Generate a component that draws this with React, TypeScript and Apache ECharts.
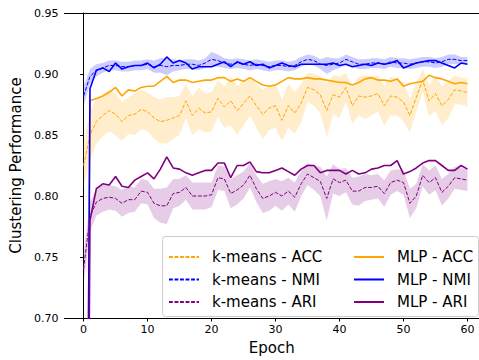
import React, { useEffect, useRef } from "react";
import * as echarts from "echarts";

const epochs: number[] = Array.from({ length: 61 }, (_, i) => i);
const xTicks = [0, 10, 20, 30, 40, 50, 60];
const yTicks = [0.7, 0.75, 0.8, 0.85, 0.9, 0.95];

const kmAcc = [
  0.825, 0.85, 0.861, 0.866, 0.87, 0.867, 0.861, 0.866, 0.867, 0.871,
  0.869, 0.864, 0.861, 0.862, 0.864, 0.866, 0.878, 0.866, 0.872, 0.868,
  0.869, 0.88, 0.873, 0.878, 0.87, 0.876, 0.882, 0.874, 0.867, 0.872,
  0.874, 0.862, 0.874, 0.868, 0.876, 0.889, 0.887, 0.883, 0.87, 0.883,
  0.881, 0.889, 0.874, 0.882, 0.881, 0.882, 0.884, 0.874, 0.882, 0.881,
  0.877, 0.866, 0.881, 0.895, 0.878, 0.884, 0.874, 0.879, 0.887, 0.886, 0.885,
];
const kmAccStd = [
  0.018, 0.02, 0.018, 0.017, 0.017, 0.017, 0.016, 0.015, 0.017, 0.016,
  0.016, 0.017, 0.018, 0.019, 0.017, 0.016, 0.014, 0.016, 0.017, 0.016,
  0.016, 0.015, 0.017, 0.02, 0.02, 0.018, 0.016, 0.018, 0.02, 0.018,
  0.018, 0.017, 0.018, 0.017, 0.016, 0.012, 0.013, 0.015, 0.022, 0.016,
  0.017, 0.012, 0.015, 0.016, 0.018, 0.016, 0.015, 0.016, 0.016, 0.015,
  0.016, 0.014, 0.012, 0.009, 0.013, 0.014, 0.016, 0.015, 0.012, 0.011, 0.012,
];
const kmNmi = [
  0.882, 0.898, 0.903, 0.905, 0.907, 0.907, 0.906, 0.906, 0.907, 0.907,
  0.908, 0.906, 0.907, 0.906, 0.907, 0.907, 0.908, 0.908, 0.907, 0.909,
  0.912, 0.911, 0.909, 0.908, 0.909, 0.908, 0.907, 0.908, 0.907, 0.906,
  0.907, 0.907, 0.906, 0.907, 0.91, 0.912, 0.911, 0.908, 0.907, 0.908,
  0.909, 0.912, 0.91, 0.908, 0.908, 0.909, 0.909, 0.908, 0.91, 0.909,
  0.909, 0.908, 0.909, 0.91, 0.91, 0.909, 0.91, 0.912, 0.912, 0.911, 0.911,
];
const kmNmiStd = [
  0.008, 0.006, 0.005, 0.004, 0.004, 0.004, 0.004, 0.004, 0.004, 0.004,
  0.004, 0.005, 0.006, 0.007, 0.005, 0.004, 0.004, 0.004, 0.004, 0.004,
  0.006, 0.005, 0.004, 0.004, 0.004, 0.004, 0.004, 0.004, 0.004, 0.004,
  0.004, 0.004, 0.004, 0.004, 0.004, 0.004, 0.004, 0.004, 0.007, 0.005,
  0.004, 0.004, 0.004, 0.004, 0.004, 0.004, 0.004, 0.004, 0.004, 0.004,
  0.004, 0.004, 0.004, 0.004, 0.004, 0.004, 0.004, 0.004, 0.004, 0.003, 0.003,
];
const kmAri = [
  0.74, 0.783, 0.795, 0.798, 0.799, 0.798, 0.794, 0.797, 0.797, 0.804,
  0.803, 0.794, 0.792, 0.792, 0.802, 0.803, 0.807, 0.8, 0.8, 0.8,
  0.801, 0.815, 0.814, 0.802, 0.805, 0.809, 0.817, 0.806, 0.798, 0.8,
  0.803, 0.8, 0.804, 0.799, 0.81, 0.818, 0.815, 0.812, 0.798, 0.814,
  0.811, 0.813, 0.804, 0.804, 0.807, 0.807, 0.808, 0.802, 0.811, 0.813,
  0.811, 0.794, 0.8, 0.817, 0.811, 0.815, 0.803, 0.808, 0.815, 0.814, 0.813,
];
const kmAriStd = [
  0.012, 0.012, 0.011, 0.011, 0.01, 0.01, 0.011, 0.011, 0.01, 0.01,
  0.01, 0.012, 0.014, 0.015, 0.012, 0.011, 0.01, 0.011, 0.011, 0.011,
  0.01, 0.01, 0.01, 0.012, 0.012, 0.011, 0.01, 0.011, 0.012, 0.012,
  0.011, 0.012, 0.011, 0.012, 0.01, 0.009, 0.01, 0.012, 0.018, 0.012,
  0.011, 0.01, 0.011, 0.012, 0.011, 0.01, 0.01, 0.011, 0.01, 0.009,
  0.01, 0.012, 0.01, 0.009, 0.01, 0.01, 0.011, 0.01, 0.009, 0.009, 0.009,
];
const mlpAcc = [
  0.1, 0.878, 0.88, 0.882, 0.885, 0.889, 0.882, 0.887, 0.886, 0.889,
  0.89, 0.89, 0.894, 0.898, 0.893, 0.895, 0.895, 0.893, 0.894, 0.895,
  0.895, 0.897, 0.897, 0.894, 0.896, 0.894, 0.897, 0.894, 0.891, 0.89,
  0.891, 0.894, 0.897, 0.896, 0.896, 0.897, 0.896, 0.896, 0.895, 0.894,
  0.893, 0.893, 0.891, 0.893, 0.896, 0.897, 0.895, 0.895, 0.894, 0.896,
  0.89, 0.892, 0.893, 0.894, 0.899, 0.897, 0.896, 0.894, 0.892, 0.893, 0.892,
];
const mlpNmi = [
  0.05, 0.888, 0.903, 0.905, 0.902, 0.909, 0.904, 0.906, 0.907, 0.907,
  0.909, 0.905, 0.908, 0.914, 0.909, 0.911, 0.909, 0.904, 0.906, 0.906,
  0.906, 0.908, 0.91, 0.906, 0.91, 0.908, 0.91, 0.907, 0.908, 0.905,
  0.907, 0.909, 0.907, 0.906, 0.908, 0.908, 0.908, 0.908, 0.908, 0.909,
  0.907, 0.908, 0.906, 0.907, 0.908, 0.907, 0.909, 0.908, 0.909, 0.911,
  0.905, 0.907, 0.909, 0.91, 0.911, 0.911, 0.909, 0.907, 0.905, 0.909, 0.908,
];
const mlpAri = [
  0.02, 0.78, 0.806, 0.81, 0.809, 0.816, 0.808, 0.807, 0.813, 0.816,
  0.819, 0.814, 0.822, 0.832, 0.823, 0.822, 0.819, 0.817, 0.819, 0.821,
  0.821, 0.827, 0.827, 0.815, 0.825, 0.825, 0.828, 0.82, 0.819, 0.819,
  0.821, 0.823, 0.82, 0.817, 0.822, 0.825, 0.825, 0.819, 0.821, 0.821,
  0.821, 0.818, 0.821, 0.818, 0.819, 0.822, 0.823, 0.825, 0.825, 0.829,
  0.818, 0.82, 0.823, 0.827, 0.829, 0.829, 0.825, 0.821, 0.821, 0.825, 0.822,
];

const kmNames = ["k-means - ACC", "k-means - NMI", "k-means - ARI"];
const mlpNames = ["MLP - ACC", "MLP - NMI", "MLP - ARI"];

const ORANGE = "#FFA500";
const BLUE = "#0000FF";
const PURPLE = "#800080";
const FONT = "DejaVu Sans";

function pairs(vals: number[]) {
  return vals.map((v, i) => [epochs[i], v]);
}

function band(id: string, mean: number[], std: number[], color: string) {
  const data = mean.map((m, i) => [epochs[i], m - std[i], m + std[i]]);
  return {
    name: id,
    type: "custom",
    data,
    silent: true,
    z: 1,
    encode: { x: 0, y: [1, 2] },
    renderItem: (params: any, api: any) => {
      if (params.dataIndex !== 0) return null;
      const lower = data.map((d) => api.coord([d[0], d[1]]));
      const upper = data.map((d) => api.coord([d[0], d[2]])).reverse();
      return {
        type: "polygon",
        shape: { points: lower.concat(upper) },
        style: { fill: color, stroke: "none" },
      };
    },
  };
}

function kmLine(name: string, vals: number[], color: string) {
  return {
    name,
    type: "line",
    data: pairs(vals),
    symbol: "none",
    itemStyle: { color },
    lineStyle: { color, width: 1, type: [3.85, 1.67] },
    z: 2,
  };
}

function mlpLine(name: string, vals: number[], color: string) {
  return {
    name,
    type: "line",
    data: pairs(vals),
    symbol: "none",
    itemStyle: { color },
    lineStyle: { color, width: 1.6 },
    z: 2,
  };
}

export default function App() {
  const ref = useRef<HTMLDivElement>(null);
  useEffect(() => {
    if (!ref.current) return;
    const chart = echarts.init(ref.current, undefined, { renderer: "svg" });
    const legendCommon = {
      orient: "vertical",
      top: 248.5,
      itemWidth: 30,
      itemHeight: 14,
      itemGap: 5.5,
      padding: 0,
      selectedMode: false,
      itemStyle: { opacity: 0 },
      textStyle: {
        fontSize: 15,
        fontFamily: FONT,
        color: "#000",
        lineHeight: 17,
        padding: [0, 0, 0, 8],
      },
    };
    chart.setOption({
      animation: false,
      backgroundColor: "#fff",
      grid: { left: 60.5, right: 0, top: 13, bottom: 36 },
      xAxis: [
        {
          type: "value",
          min: -3,
          max: 61.8,
          name: "Epoch",
          nameLocation: "middle",
          nameGap: 22,
          nameTextStyle: { fontSize: 15, fontFamily: FONT, color: "#000" },
          axisLine: { show: true, lineStyle: { color: "#000", width: 1 } },
          axisTick: { show: true, length: 3.5, customValues: xTicks, lineStyle: { color: "#000" } },
          axisLabel: {
            customValues: xTicks,
            fontSize: 11,
            fontFamily: FONT,
            color: "#000",
            margin: 6,
          },
          splitLine: { show: false },
        },
        {
          type: "value",
          position: "top",
          min: -3,
          max: 61.8,
          axisLine: { show: true, lineStyle: { color: "#000", width: 1 } },
          axisTick: { show: false },
          axisLabel: { show: false },
          splitLine: { show: false },
        },
      ],
      yAxis: {
        type: "value",
        min: 0.7,
        max: 0.95,
        name: "Clustering Performance",
        nameLocation: "middle",
        nameGap: 35,
        nameTextStyle: { fontSize: 15, fontFamily: FONT, color: "#000" },
        axisLine: { show: true, lineStyle: { color: "#000", width: 1 } },
        axisTick: { show: true, length: 3.5, customValues: yTicks, lineStyle: { color: "#000" } },
        axisLabel: {
          customValues: yTicks,
          formatter: (v: number) => v.toFixed(2),
          fontSize: 11,
          fontFamily: FONT,
          color: "#000",
          margin: 6,
        },
        splitLine: { show: false },
      },
      legend: [
        { ...legendCommon, data: kmNames, left: 168 },
        { ...legendCommon, data: mlpNames, left: 353 },
      ],
      graphic: [
        {
          type: "rect",
          z: 3,
          shape: { x: 162.5, y: 236.5, width: 316, height: 80, r: 3 },
          style: { fill: "rgba(255,255,255,0.8)", stroke: "#cccccc", lineWidth: 1 },
        },
      ],
      series: [
        band("accBand", kmAcc, kmAccStd, "rgba(255,165,0,0.2)"),
        band("nmiBand", kmNmi, kmNmiStd, "rgba(0,0,255,0.2)"),
        band("ariBand", kmAri, kmAriStd, "rgba(128,0,128,0.2)"),
        kmLine(kmNames[0], kmAcc, ORANGE),
        kmLine(kmNames[1], kmNmi, BLUE),
        kmLine(kmNames[2], kmAri, PURPLE),
        mlpLine(mlpNames[0], mlpAcc, ORANGE),
        mlpLine(mlpNames[1], mlpNmi, BLUE),
        mlpLine(mlpNames[2], mlpAri, PURPLE),
      ],
    });
    return () => chart.dispose();
  }, []);
  return (
    <div
      ref={ref}
      style={{ position: "fixed", left: 0, top: 0, width: 479, height: 360 }}
    />
  );
}
